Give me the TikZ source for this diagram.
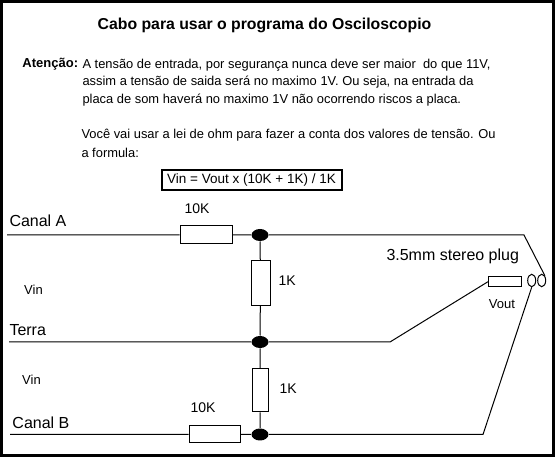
\documentclass[tikz,border=0pt]{standalone}
\usepackage{fontspec}
\setmainfont{Liberation Sans}
\tikzset{
    resistor/.style={draw,fill=white,inner sep=0pt},
    junction/.style={ellipse,fill=black,minimum width=17pt,minimum height=12pt,inner sep=0pt},
    jack/.style={draw,ellipse,minimum width=8pt,minimum height=12.5pt,inner sep=0pt},
    line/.style={anchor=west,inner sep=0pt,font=\fontsize{12.9}{14}\selectfont},
    wirelabel/.style={anchor=west,inner sep=0pt,font=\fontsize{16}{18}\selectfont},
    valuelabel/.style={anchor=west,inner sep=0pt,font=\fontsize{14}{16}\selectfont},
    small/.style={inner sep=0pt,font=\fontsize{13}{15}\selectfont}
}
\usetikzlibrary{shapes.geometric}
\begin{document}
\begin{tikzpicture}[x=1pt,y=-1pt,line width=1pt]
    \useasboundingbox (0,0) rectangle (555,457);
    \draw[line width=3pt] (1.5,1.5) rectangle (553.5,455.5);
    \node[inner sep=0pt,font=\fontsize{15.8}{18}\selectfont\bfseries] (title) at (264.5,25) {Cabo para usar o programa do Osciloscopio};
    \node[line,font=\fontsize{13}{14}\selectfont\bfseries] (atencao) at (22,64) {Atenção:};
    \node[line] (l1) at (82,65) {A tensão de entrada, por segurança nunca deve ser maior \ do que 11V,};
    \node[line] (l2) at (82,82) {assim a tensão de saida será no maximo 1V. Ou seja, na entrada da};
    \node[line] (l3) at (82,100) {placa de som haverá no maximo 1V não ocorrendo riscos a placa.};
    \node[line] (l4) at (81,135) {Você vai usar a lei de ohm para fazer a conta dos valores de tensão. Ou};
    \node[line] (l5) at (81,153) {a formula:};
    \node[draw,line width=2pt,minimum width=180pt,minimum height=20pt,inner sep=0pt,font=\fontsize{13.5}{15}\selectfont] (formula) at (251.5,180.5) {Vin = Vout x (10K + 1K) / 1K};

    \node[wirelabel] (canala) at (9,221) {Canal A};
    \node[wirelabel] (terra) at (9,330) {Terra};
    \node[wirelabel] (canalb) at (12,423) {Canal B};
    \node[small] (vina) at (33.5,290) {Vin};
    \node[small] (vinb) at (31.5,380) {Vin};
    \node[valuelabel] (r1label) at (184,209) {10K};
    \node[valuelabel] (r4label) at (190,408) {10K};
    \node[valuelabel] (r2label) at (278,281) {1K};
    \node[valuelabel] (r3label) at (279,389) {1K};
    \node[wirelabel] (plug) at (386,256) {3.5mm stereo plug};
    \node[small] (vout) at (502,304) {Vout};

    \coordinate (astart) at (7,235);
    \coordinate (tstart) at (9,342);
    \coordinate (bstart) at (10,434.5);
    \coordinate (abend) at (524,235);
    \coordinate (tbend) at (390,342);
    \coordinate (bbend) at (483,434.5);

    \node[resistor,minimum width=52pt,minimum height=18pt] (r1) at (206,235) {};
    \node[resistor,minimum width=19pt,minimum height=45pt] (r2) at (260.5,283) {};
    \node[resistor,minimum width=16pt,minimum height=43pt] (r3) at (260,390.5) {};
    \node[resistor,minimum width=51pt,minimum height=17pt] (r4) at (214.5,434.5) {};
    \node[resistor,minimum width=33pt,minimum height=10pt] (tip) at (505,281.7) {};
    \node[junction] (ja) at (260,235) {};
    \node[junction] (jt) at (260,342) {};
    \node[junction] (jb) at (260,434.5) {};
    \node[jack] (ring) at (531.7,280.5) {};
    \node[jack] (sleeve) at (541.7,280.5) {};

    \draw (astart) -- (r1) -- (ja) -- (abend) -- (sleeve.north east);
    \draw (tstart) -- (jt) -- (tbend) -- (tip.west);
    \draw (bstart) -- (r4) -- (jb) -- (bbend) -- (ring.south);
    \draw (ja) -- (r2) -- (jt) -- (r3) -- (jb);
\end{tikzpicture}
\end{document}
